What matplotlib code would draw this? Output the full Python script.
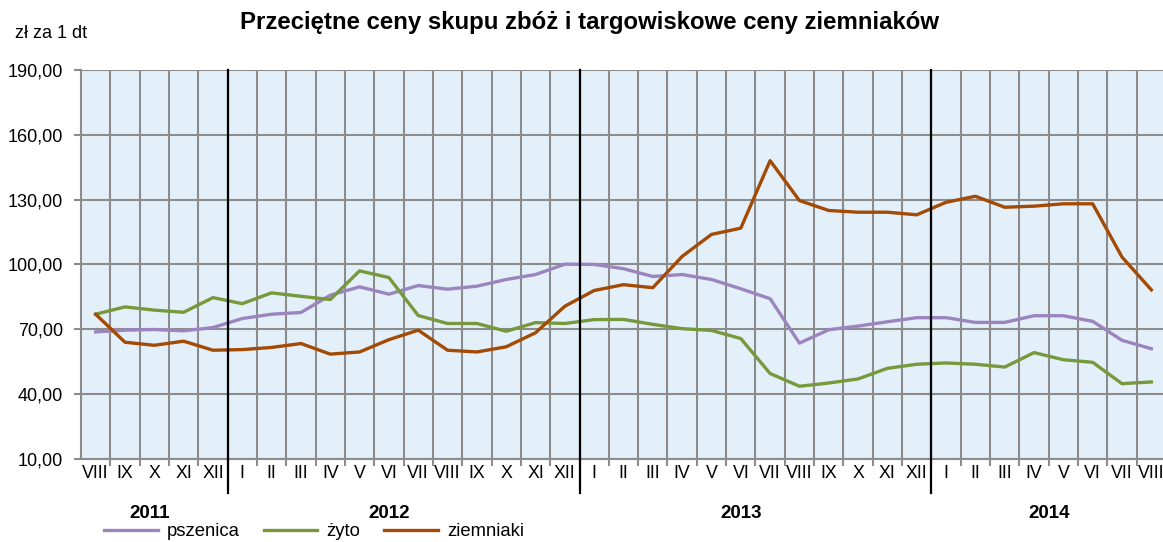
import matplotlib
matplotlib.use("Agg")
import matplotlib.pyplot as plt
from matplotlib.lines import Line2D
import matplotlib.transforms as mtransforms

months = ["VIII", "IX", "X", "XI", "XII",
          "I", "II", "III", "IV", "V", "VI", "VII", "VIII", "IX", "X", "XI", "XII",
          "I", "II", "III", "IV", "V", "VI", "VII", "VIII", "IX", "X", "XI", "XII",
          "I", "II", "III", "IV", "V", "VI", "VII", "VIII"]
years = ["2011", "2012", "2013", "2014"]
year_start_idx = [0, 5, 17, 29]

pszenica = [68.7, 69.5, 69.8, 69.2, 70.7, 74.9, 76.9, 77.7, 85.7, 89.6, 86.2, 90.2,
            88.5, 89.9, 93.0, 95.3, 100.1,
            100.0, 98.0, 94.4, 95.3, 93.0, 88.7, 84.1, 63.5, 69.7, 71.4, 73.4, 75.3,
            75.3, 73.1, 73.1, 76.2, 76.2, 73.6, 64.8, 60.9]
zyto = [76.9, 80.3, 78.8, 77.8, 84.6, 81.8, 86.8, 85.2, 83.7, 97.0, 93.9, 76.3,
        72.6, 72.6, 69.0, 73.0, 72.6,
        74.4, 74.5, 72.2, 70.2, 69.4, 65.6, 49.4, 43.5, 45.0, 46.9, 51.8, 53.7,
        54.3, 53.7, 52.4, 59.1, 55.8, 54.6, 44.7, 45.5]
ziemniaki = [76.9, 63.9, 62.5, 64.4, 60.2, 60.5, 61.5, 63.3, 58.4, 59.4, 65.1, 69.5,
             60.2, 59.4, 61.8, 68.3, 80.6,
             87.9, 90.6, 89.2, 103.7, 113.9, 116.8, 148.1, 129.6, 125.0, 124.2, 124.2, 123.0,
             128.8, 131.6, 126.5, 127.0, 128.1, 128.1, 103.4, 88.2]

series_names = ["pszenica", "żyto", "ziemniaki"]
colors = ["#9C84BF", "#77983B", "#A34A05"]
yticks = [10, 40, 70, 100, 130, 160, 190]

plt.rcParams['font.family'] = ['Liberation Sans', 'DejaVu Sans']

W, H = 1163, 542
fig = plt.figure(figsize=(W / 100, H / 100), dpi=100)
left, right, top, bottom = 81, 1166, 70.3, 458.5
ax = fig.add_axes([left / W, 1 - bottom / H, (right - left) / W, (bottom - top) / H])
ax.set_facecolor("#E3F0FA")

n = len(months)
x = list(range(n))
ax.set_xlim(-0.5, n - 0.5)
ax.set_ylim(10, 190)

grid_col = "#8C8C8C"
ax.set_yticks(yticks)
ax.set_yticklabels([f"{v:.2f}".replace(".", ",") for v in yticks], fontsize=13)
ax.yaxis.grid(True, color=grid_col, linewidth=1.5)
bounds = [i - 0.5 for i in range(1, n)]
ax.set_xticks(bounds, minor=True)
ax.xaxis.grid(True, which="minor", color=grid_col, linewidth=1.5)
ax.set_xticks(x)
ax.set_xticklabels(months, fontsize=12.8)
ax.tick_params(axis="x", which="major", length=0, pad=5)
ax.tick_params(axis="x", which="minor", length=5, color=grid_col, width=1.5)
ax.tick_params(axis="y", length=5, color=grid_col, width=1.5, pad=8)
ax.set_axisbelow(True)
for s in ["top", "right"]:
    ax.spines[s].set_visible(False)
for s in ["left", "bottom"]:
    ax.spines[s].set_color(grid_col)
    ax.spines[s].set_linewidth(1.5)

for vals, c, name in zip([pszenica, zyto, ziemniaki], colors, series_names):
    ax.plot(x, vals, color=c, linewidth=2.4, label=name, solid_joinstyle="round", zorder=3)

trans = mtransforms.blended_transform_factory(ax.transData, ax.transAxes)
for idx in year_start_idx[1:]:
    ax.add_line(Line2D([idx - 0.5, idx - 0.5], [1, -0.089], transform=trans,
                       color="black", linewidth=1.6, clip_on=False, zorder=4))

year_pos = [1.85, 10.0, 22.0, 32.5]
for yr, xp in zip(years, year_pos):
    ax.text(xp, -0.142, yr, transform=trans, ha="center", va="center",
            fontsize=13.5, fontweight="bold")

leg = fig.legend(loc="center left", bbox_to_anchor=(104 / W, 1 - 532 / H), ncol=3,
                 frameon=False, fontsize=13.3, handlelength=2.9, columnspacing=1.3,
                 handletextpad=0.5, borderaxespad=0, borderpad=0)

fig.text(589 / W, 1 - 22 / H, "Przeciętne ceny skupu zbóż i targowiskowe ceny ziemniaków",
         ha="center", va="center", fontsize=17.3, fontweight="bold")
fig.text(15 / W, 1 - 33 / H, "zł za 1 dt", ha="left", va="center", fontsize=13)

fig.savefig("out.png", dpi=100)
